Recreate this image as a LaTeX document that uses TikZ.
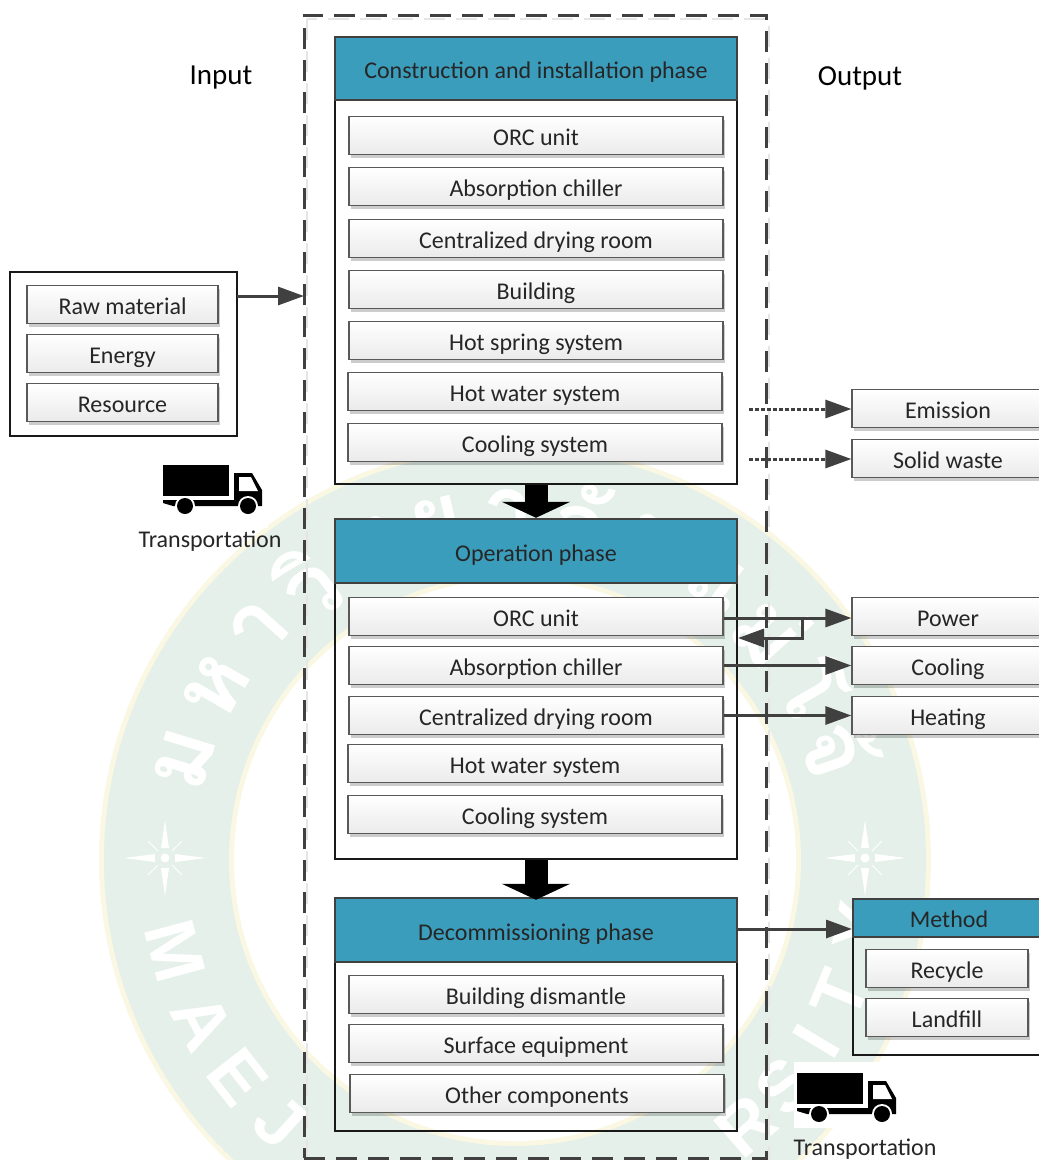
\documentclass[tikz,border=0pt]{standalone}
\usepackage{fontspec}
\setmainfont{Carlito}
\newfontfamily\thaifont[Script=Thai]{Loma}
\newfontfamily\sealfont{Liberation Sans}
\usetikzlibrary{arrows.meta,shadows}
\definecolor{phaseblue}{HTML}{3B9DBC}
\definecolor{linegray}{HTML}{404040}
\definecolor{sealgreen}{HTML}{E4F0E9}
\definecolor{sealedge}{HTML}{FAF7E3}
\tikzset{
  itembox/.style={draw=black!65,line width=1.2pt,top color=white,bottom color=black!8,minimum height=38pt,inner sep=0pt,text=black!85,
    yshift=-0.5pt,text height=26pt,text depth=6pt,font=\fontsize{24}{26}\selectfont,
    drop shadow={shadow xshift=2pt,shadow yshift=-3pt,opacity=.2,fill=black}},
  header/.style={draw=black!75,line width=2.5pt,fill=phaseblue,inner sep=0pt,text=black!85,text height=26pt,text depth=6pt,font=\fontsize{24}{26}\selectfont},
  frame/.style={draw=black!90,line width=2.5pt,inner sep=0pt},
  flow/.style={draw=linegray,line width=3pt,-{Triangle[length=26pt,width=18pt,fill=linegray]}},
  dotflow/.style={flow,dash pattern=on 4pt off 2pt},
  blockflow/.style={draw=black,line width=23pt,-{Triangle[length=16pt,width=68pt]}},
  caption/.style={inner sep=0pt,text=black!85,font=\fontsize{24}{26}\selectfont},
  title/.style={inner sep=0pt,text=black,font=\fontsize{29}{31}\selectfont},
  sealletter/.style={text=white,inner sep=0pt,font=\fontsize{72}{74}\selectfont\sealfont\bfseries},
  sealthai/.style={text=white,inner sep=0pt,font=\fontsize{92}{94}\selectfont\thaifont\bfseries},
  truck/.pic={
    \fill[black] (0,0) rectangle (66,31);
    \fill[black] (71,8) -- (89,8) -- (99,25) -- (99,41) -- (71,41) -- cycle;
    \fill[white] (76,12) -- (88,12) -- (95,26) -- (76,26) -- cycle;
    \fill[black] (0,35) -- (71,35) -- (71,41) -- (10,41) -- (0,38) -- cycle;
    \fill[white] (22,41) circle (10) (85,41) circle (10);
    \fill[black] (22,41) circle (8) (85,41) circle (8);
  },
  sealstar/.pic={
    \fill[white] (0,0) circle (4.5);
    \fill[white] (10,-4) -- (41,0) -- (10,4) -- cycle;
    \fill[white] (-10,-4) -- (-41,0) -- (-10,4) -- cycle;
    \fill[white] (-4,-10) -- (0,-38) -- (4,-10) -- cycle;
    \fill[white] (-4,10) -- (0,38) -- (4,10) -- cycle;
    \draw[white,line width=1pt] (7,-7) -- (17,-17) (-7,-7) -- (-17,-17) (7,7) -- (17,17) (-7,7) -- (-17,17);
  }
}
\begin{document}
\begin{tikzpicture}[x=1pt,y=-1pt]
  \useasboundingbox (0,0) rectangle (1039,1160);
  \clip (0,0) rectangle (1039,1160);
  % seal behind the diagram
  \fill[white] (0,0) rectangle (1039,1160);
  \fill[sealedge] (515,860) circle (416);
  \fill[sealgreen] (515,860) circle (411);
  \fill[sealedge] (515,860) circle (286);
  \fill[white] (515,860) circle (281);
  \foreach \ch/\ang in {M/195,A/207.5,E/218,J/228,R/311,S/320,I/329,T/337.5,Y/349}
    \node[sealletter,rotate=\ang-270] at ({515+352*cos(\ang)},{860-352*sin(\ang)}) {\ch};
  \foreach \ch/\ang in {ม/163,ห/150,า/138,วิ/127,ท/115,ย/103,า/91,ลั/79,ย/67,แ/54,ม่/42,โ/30,จ้/19}
    \node[sealthai,rotate=\ang-90] at ({515+345*cos(\ang)},{860-345*sin(\ang)}) {\ch};
  \pic at (165,858) {sealstar};
  \pic at (865,858) {sealstar};
  \fill[white] (163,465) rectangle (268,528);
  \fill[white] (794,1062) rectangle (897,1128);

  % outer dashed boundary
  \draw[black!10,line width=2.5pt,dash pattern=on 21pt off 11pt] (307,19) rectangle (769,1162);
  \node[draw=linegray,line width=3pt,dash pattern=on 21pt off 11pt,inner sep=0pt,minimum width=462pt,minimum height=1143pt] (boundary) at (535,586.5) {};
  \node[title] (input) at (221,78) {Input};
  \node[title] (output) at (860,78) {Output};

  % construction phase
  \node[frame,minimum width=402pt,minimum height=447pt] (framea) at (536,260.5) {};
  \node[header,minimum width=402pt,minimum height=63pt] (heada) at (536,68.5) {Construction and installation phase};
  \node[itembox,minimum width=374pt] (orca) at (536,135) {ORC unit};
  \node[itembox,minimum width=374pt] (chillera) at (536,186) {Absorption chiller};
  \node[itembox,minimum width=374pt] (dryinga) at (536,238) {Centralized drying room};
  \node[itembox,minimum width=374pt] (building) at (536,289) {Building};
  \node[itembox,minimum width=374pt] (spring) at (536,340) {Hot spring system};
  \node[itembox,minimum width=374pt] (watera) at (535,391) {Hot water system};
  \node[itembox,minimum width=374pt] (coolinga) at (535,442) {Cooling system};

  % operation phase
  \node[frame,minimum width=402pt,minimum height=340pt] (frameb) at (536,689) {};
  \node[header,minimum width=402pt,minimum height=64pt] (headb) at (536,551) {Operation phase};
  \node[itembox,minimum width=374pt] (orcb) at (536,616) {ORC unit};
  \node[itembox,minimum width=374pt] (chillerb) at (536,665) {Absorption chiller};
  \node[itembox,minimum width=374pt] (dryingb) at (536,715) {Centralized drying room};
  \node[itembox,minimum width=374pt] (waterb) at (535,763) {Hot water system};
  \node[itembox,minimum width=374pt] (coolingb) at (535,814) {Cooling system};

  % decommissioning phase
  \node[frame,minimum width=402pt,minimum height=233pt] (framec) at (536,1014.5) {};
  \node[header,minimum width=402pt,minimum height=64pt] (headc) at (536,930) {Decommissioning phase};
  \node[itembox,minimum width=374pt] (dismantle) at (536,994) {Building dismantle};
  \node[itembox,minimum width=374pt] (surface) at (536,1043) {Surface equipment};
  \node[itembox,minimum width=374pt] (other) at (537,1093) {Other components};

  % input side
  \node[frame,fill=white,minimum width=227pt,minimum height=164pt] (inbox) at (123.5,354) {};
  \node[itembox,minimum width=191pt] (raw) at (122.5,304) {Raw material};
  \node[itembox,minimum width=191pt] (energy) at (122.5,353) {Energy};
  \node[itembox,minimum width=191pt] (resource) at (122.5,402) {Resource};
  \pic at (163,465) {truck};
  \node[caption] (transa) at (210,541) {Transportation};

  % output side
  \node[itembox,minimum width=192pt] (emission) at (948,408) {Emission};
  \node[itembox,minimum width=192pt] (solid) at (948,458) {Solid waste};
  \node[itembox,minimum width=192pt] (power) at (948,616) {Power};
  \node[itembox,minimum width=192pt] (cooling) at (948,665) {Cooling};
  \node[itembox,minimum width=192pt] (heating) at (948,715) {Heating};
  \node[frame,minimum width=192pt,minimum height=156pt] (methodbox) at (949,977) {};
  \node[header,minimum width=192pt,minimum height=38pt,text height=25pt,text depth=6pt] (method) at (949,918) {Method};
  \node[itembox,minimum width=162pt] (recycle) at (947,968) {Recycle};
  \node[itembox,minimum width=162pt] (landfill) at (947,1017) {Landfill};
  \pic at (797,1073) {truck};
  \node[caption] (transb) at (865,1149) {Transportation};

  % connectors
  \coordinate (ina) at (237,296);
  \coordinate (inb) at (304,296);
  \coordinate (dota) at (749,409);
  \coordinate (dotb) at (749,459);
  \coordinate (deca) at (737,929);
  \coordinate (decb) at (852,929);
  \coordinate (loopa) at (802,618);
  \coordinate (loopb) at (802,638);
  \coordinate (loopc) at (738,638);
  \draw[flow] (ina) -- (inb);
  \draw[dotflow] (dota) -- (emission.west |- dota);
  \draw[dotflow] (dotb) -- (solid.west |- dotb);
  \draw[flow] (orcb.east |- loopa) -- (power.west |- loopa);
  \draw[flow] (loopa) -- (loopb) -- (loopc);
  \draw[flow] (chillerb.east) -- (cooling.west);
  \draw[flow] (dryingb.east) -- (heating.west);
  \draw[flow] (deca) -- (decb);
  \draw[blockflow] (framea.south) -- (headb.north);
  \draw[blockflow] (frameb.south) -- ([yshift=-3pt]headc.north);
\end{tikzpicture}
\end{document}
